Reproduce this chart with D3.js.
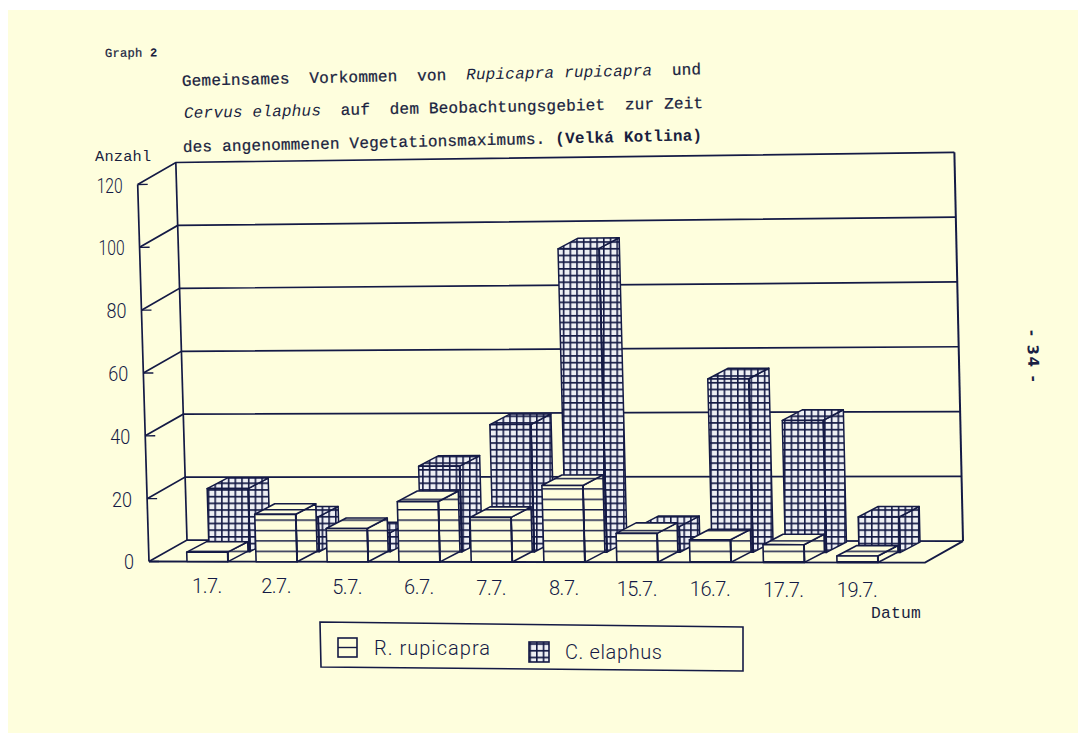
<!DOCTYPE html>
<html><head><meta charset="utf-8">
<script src="https://cdn.jsdelivr.net/npm/d3@7/dist/d3.min.js"></script>
<style>html,body{margin:0;padding:0;background:#fff}svg{display:block}</style>
</head><body><svg id="c" width="1078" height="733"></svg>
<script>
const dates = ["1.7.","2.7.","5.7.","6.7.","7.7.","8.7.","15.7.","16.7.","17.7.","19.7."];
const rupicapra = [3,15,10.5,19,14,24,9,7,5.5,2];
const elaphus = [20,11,6,27,40,95,8,54,41,11];
const yTicks = [0,20,40,60,80,100,120];
const seriesNames = ["R. rupicapra","C. elaphus"];

const INK = "#141a45", PAPER = "#fefedd", CELL = "#edeff3";
const svg = d3.select("#c");
const defs = svg.append("defs");

// Hatch fills: horizontal rules for the chamois, a fine lattice for the red deer
const ph = defs.append("pattern").attr("id","hatchR").attr("patternUnits","userSpaceOnUse")
  .attr("width",20).attr("height",10.4).attr("y",561);
ph.append("rect").attr("width",20).attr("height",10.4).attr("fill",PAPER);
ph.append("line").attr("x1",0).attr("x2",20).attr("y1",0.7).attr("y2",0.7).attr("stroke",INK).attr("stroke-width",1.5);
const pc = defs.append("pattern").attr("id","hatchC").attr("patternUnits","userSpaceOnUse")
  .attr("width",6.7).attr("height",6.7);
pc.append("rect").attr("width",6.7).attr("height",6.7).attr("fill",CELL);
pc.append("path").attr("d","M0 0.8H6.7M0.8 0V6.7").attr("stroke",INK).attr("stroke-width",1.6).attr("fill","none");

svg.append("rect").attr("x",8).attr("y",10).attr("width",1070).attr("height",723).attr("fill",PAPER);

// Date position along the front edge (the plotter's feed stretches slightly to the right)
const xPos = d3.scalePow().exponent(1.02).domain([0,dates.length-1]).range([187,837]);
const y = d3.scaleLinear().domain([0,120]).range([0,377]);
const BAR_W = 41;
const DX = 20, DY = 10.5;       // receding edge of one bar
const ROW_DX = 22, ROW_DY = 10; // second row sits behind the first

// Oblique projection with the slight lean of the plotted sheet
function proj(px, val, dx=0, dy=0){
  const h = y(val);
  const lean = 0.03 - 0.007*(px+dx-150)/800;
  const sx = px + dx - h*lean;
  const tilt = (px+dx-150)*0.0000385*h;
  return [sx, 561.5 + 0.0014*(px+dx-150) - dy - h - tilt];
}
const pts = a => a.map(p=>p.join(",")).join(" ");
const line = d3.line();

const g = svg.append("g");

// Back wall and floor
const WL=149, WR=925, FDX=38, FDY=21.5;
const wall = g.append("g").attr("fill","none").attr("stroke",INK);
wall.selectAll("path.grid").data(yTicks).join("path").attr("class","grid")
  .attr("stroke-width",1.7)
  .attr("d",v=>line([proj(WL,v,0,0),proj(WL,v,FDX,FDY),proj(WR,v,FDX,FDY)]));
wall.append("path").attr("stroke-width",1.7).attr("d",line([proj(WL,0),proj(WL,120)]));
wall.append("path").attr("stroke-width",1.7).attr("d",line([proj(WL,0,FDX,FDY),proj(WL,120,FDX,FDY)]));
wall.append("path").attr("stroke-width",2).attr("d",line([proj(WR,0,FDX,FDY),proj(WR,120,FDX,FDY)]));
wall.append("path").attr("stroke-width",1.8).attr("d",line([proj(WL,0),proj(WR,0),proj(WR,0,FDX,FDY)]));
wall.selectAll("path.tick").data(yTicks).join("path").attr("class","tick").attr("stroke-width",1.4)
  .attr("d",v=>line([proj(WL,v),proj(WL+10,v)]));

// One hatched box: side, top and front faces
function box(sel, xp, v, ox, oy, fill, sw){
  const b = sel.append("g").attr("stroke",INK).attr("stroke-linejoin","round");
  const f0=proj(xp,0,ox,oy), f1=proj(xp+BAR_W,0,ox,oy), f2=proj(xp+BAR_W,v,ox,oy), f3=proj(xp,v,ox,oy);
  const b0=proj(xp+BAR_W,0,ox+DX,oy+DY), b1=proj(xp+BAR_W,v,ox+DX,oy+DY), b2=proj(xp,v,ox+DX,oy+DY);
  b.append("polygon").attr("points",pts([f1,b0,b1,f2])).attr("fill",fill).attr("stroke-width",sw);
  b.append("polygon").attr("points",pts([f3,f2,b1,b2])).attr("fill",fill).attr("stroke-width",sw);
  b.append("polygon").attr("points",pts([f0,f1,f2,f3])).attr("fill",fill).attr("stroke-width",sw);
  b.append("path").attr("d",line([f1,f2])).attr("stroke-width",1.9).attr("fill","none");
}
const bars = g.append("g");
dates.forEach((d,i)=>box(bars,xPos(i),elaphus[i],ROW_DX,ROW_DY,"url(#hatchC)",1.5));
dates.forEach((d,i)=>box(bars,xPos(i),rupicapra[i],0,0,"url(#hatchR)",1.6));

// Axis labels in the thin plotter lettering
const thin = "Roboto, sans-serif";
g.selectAll("text.yt").data(yTicks).join("text").attr("class","yt")
  .attr("x",v=>proj(WL,v)[0]-15).attr("y",v=>proj(WL,v)[1]+8)
  .attr("text-anchor","end").attr("font-family",thin).attr("font-weight",300).attr("font-size",20)
  .attr("textLength",v=>[10,20,26][String(v).length-1]).attr("lengthAdjust","spacingAndGlyphs")
  .attr("fill",INK).text(d=>d);
g.selectAll("text.xt").data(dates).join("text").attr("class","xt")
  .attr("x",(d,i)=>xPos(i)+20).attr("y",(d,i)=>593+4*i/9).attr("text-anchor","middle")
  .attr("font-family",thin).attr("font-weight",300).attr("font-size",20).attr("letter-spacing",-0.5)
  .attr("fill",INK).text(d=>d);

// Typed captions
const mono = "'Liberation Mono', monospace";
function typed(xp,yp,rot,size,parts){
  const t = svg.append("text").attr("transform",`translate(${xp},${yp}) rotate(${rot})`)
    .attr("font-family",mono).attr("font-size",size).attr("fill","#1a1f3f")
    .attr("letter-spacing",0.2).attr("xml:space","preserve");
  parts.forEach(p=>t.append("tspan").attr("font-style",p.i?"italic":null)
    .attr("font-weight",p.b?"bold":null).attr("stroke",p.s?"#1a1f3f":"none").attr("stroke-width",p.s?0.25:0).text(p.t));
  return t;
}
typed(105,57,-0.6,12.2,[{t:"Graph",s:1},{t:" "},{t:"2",b:1}]);
typed(182,86,-1.3,16,[{t:"Gemeinsames  Vorkommen  von  ",s:1},{t:"Rupicapra rupicapra",i:1},{t:"  und",s:1}]);
typed(184,118,-1.1,16,[{t:"Cervus elaphus",i:1},{t:"  auf  dem Beobachtungsgebiet  zur Zeit",s:1}]);
typed(183,152,-1.3,16,[{t:"des angenommenen Vegetationsmaximums. ",s:1},{t:"(Velká Kotlina)",b:1}]);
typed(95,161,0,15.3,[{t:"Anzahl"}]);
typed(871,618,0,16.3,[{t:"Datum"}]);

// Legend
const lg = svg.append("g");
lg.append("polygon").attr("points","320,622 743,627 743,671 321,667").attr("fill","none").attr("stroke",INK).attr("stroke-width",1.6);
lg.append("rect").attr("x",338).attr("y",638).attr("width",19).attr("height",19).attr("fill",PAPER).attr("stroke",INK).attr("stroke-width",1.6);
lg.append("line").attr("x1",338).attr("x2",357).attr("y1",647.5).attr("y2",647.5).attr("stroke",INK).attr("stroke-width",1.4);
lg.append("rect").attr("x",529).attr("y",642).attr("width",20).attr("height",20).attr("fill","url(#hatchC)").attr("stroke",INK).attr("stroke-width",1.6);
lg.selectAll("text").data(seriesNames).join("text")
  .attr("x",(d,i)=>[374,565][i]).attr("y",(d,i)=>[655,659][i])
  .attr("textLength",(d,i)=>[116,97][i]).attr("lengthAdjust","spacing")
  .attr("font-family",thin).attr("font-weight",300).attr("font-size",20).attr("fill",INK).text(d=>d);

// Page number written sideways in the margin
svg.append("text").attr("transform","translate(1027,330) rotate(88)")
  .attr("font-family","'DejaVu Sans', sans-serif").attr("font-weight","bold").attr("font-size",15)
  .attr("textLength",52).attr("fill","#1a1f45").text("- 34 -");
</script></body></html>
